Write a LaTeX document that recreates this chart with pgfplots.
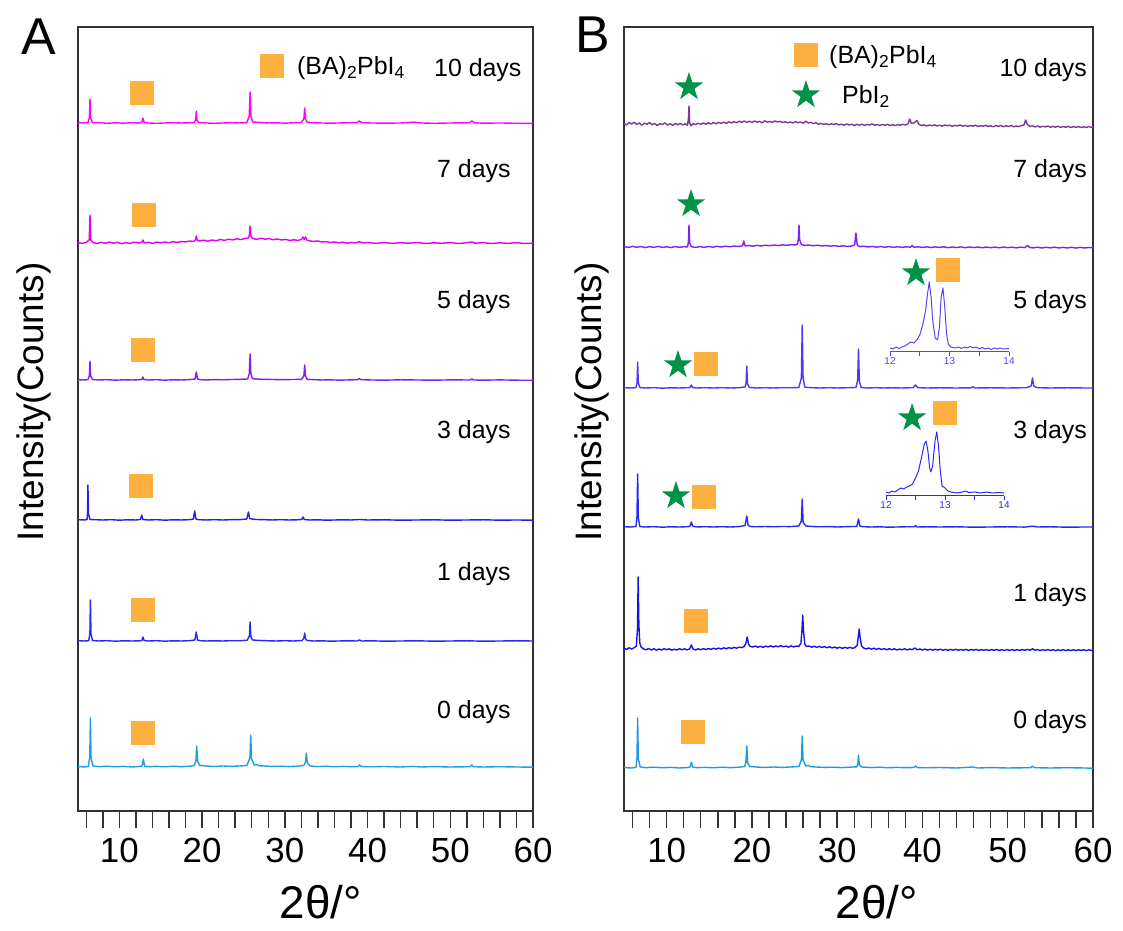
\documentclass[border=0pt]{standalone}
\usepackage{fontspec}
\setmainfont{Liberation Sans}
\usepackage{pgfplots}
\pgfplotsset{compat=1.18}
\definecolor{cA10}{RGB}{255,0,255}
\definecolor{cA7}{RGB}{225,0,240}
\definecolor{cA5}{RGB}{128,32,240}
\definecolor{cA3}{RGB}{32,32,240}
\definecolor{cA1}{RGB}{40,40,248}
\definecolor{cA0}{RGB}{28,160,224}
\definecolor{cB10}{RGB}{125,55,155}
\definecolor{cB7}{RGB}{128,32,245}
\definecolor{cB5}{RGB}{90,50,245}
\definecolor{cB3}{RGB}{40,40,245}
\definecolor{cB1}{RGB}{20,20,230}
\definecolor{cB0}{RGB}{30,155,224}
\definecolor{sq}{RGB}{251,176,64}
\definecolor{st}{RGB}{0,146,69}
\definecolor{ins5}{RGB}{80,70,245}
\definecolor{ins3}{RGB}{40,40,245}
\definecolor{axc}{RGB}{50,50,50}
\pgfdeclareplotmark{fstar}{%
  \pgfpathmoveto{\pgfpointpolar{90}{\pgfplotmarksize}}%
  \pgfpathlineto{\pgfpointpolar{126}{0.382*\pgfplotmarksize}}%
  \pgfpathlineto{\pgfpointpolar{162}{\pgfplotmarksize}}%
  \pgfpathlineto{\pgfpointpolar{198}{0.382*\pgfplotmarksize}}%
  \pgfpathlineto{\pgfpointpolar{234}{\pgfplotmarksize}}%
  \pgfpathlineto{\pgfpointpolar{270}{0.382*\pgfplotmarksize}}%
  \pgfpathlineto{\pgfpointpolar{306}{\pgfplotmarksize}}%
  \pgfpathlineto{\pgfpointpolar{342}{0.382*\pgfplotmarksize}}%
  \pgfpathlineto{\pgfpointpolar{18}{\pgfplotmarksize}}%
  \pgfpathlineto{\pgfpointpolar{54}{0.382*\pgfplotmarksize}}%
  \pgfpathclose\pgfusepathqfill}
\pgfplotsset{
  xrdaxis/.style={
    anchor=south west, scale only axis, height=784bp,
    xmin=5, xmax=60, ymin=0, ymax=784,
    ytick=\empty, xtick={10,20,...,60}, minor xtick={6,8,...,58},
    xtick pos=left, tick align=outside,
    major tick length=17bp, minor tick length=17bp,
    tick style={line width=1.4bp, color=axc},
    axis line style={line width=1.8bp, color=axc},
    xticklabel style={font=\fontsize{35}{40}\selectfont, inner sep=1bp, yshift=-9bp},
    /pgf/number format/assume math mode=true,
    clip=false},
  tr/.style={line width=1.4bp, line join=round},
  sqm/.style={only marks, mark=square*, mark size=11.5bp, mark options={fill=sq, draw=sq, line width=0pt}},
  stm/.style={only marks, mark=fstar, mark size=15bp, mark options={fill=st, draw=none}},
  inset/.style={anchor=south west, scale only axis, height=75bp,
    xmin=12, xmax=14, ymin=0, ymax=75,
    axis x line*=bottom, axis y line=none,
    xtick={12,13,14}, minor xtick={12.5,13.5},
    tick align=outside, major tick length=4bp, minor tick length=4bp,
    /pgf/number format/assume math mode=true, clip=false}
}
\begin{document}
\begin{tikzpicture}[x=1bp,y=1bp]
\useasboundingbox (0,0) rectangle (1123,931);
% ---------------- Panel A ----------------
\begin{axis}[xrdaxis, at={(78bp,120bp)}, width=455bp]
\addplot[tr, cA0] table[x=x, y expr=\thisrow{y}+44] {
x y
5 0.5
5.8 0
6.25 0.5
6.42 10
6.5 49
6.58 9
6.8 1
7.5 0.3
8.5 0.8
9.5 0.2
10.5 0.6
11.5 0
12.4 0.5
12.75 1
12.9 8
13.05 1
13.4 0.3
14.5 0.6
15.5 0.2
16.5 0.8
17.5 0.3
18.5 0.8
19.05 1.5
19.25 6
19.35 21
19.47 5
19.75 1.5
20.5 1
21.5 0.5
22.5 1
23.5 0.6
24.5 1
25.4 1.5
25.78 9
25.88 32
25.98 8
26.3 2
26.6 2.5
26.9 1.3
27.5 1
28.5 0.6
29.5 0.8
30.5 0.4
31.5 0.8
32.3 1.5
32.5 5
32.6 14
32.72 4
33.1 1
34 0.4
35 0.8
36 0.2
37 0.6
38 0.3
38.85 0.5
39.05 2
39.25 0.5
40.5 0.2
42 0.5
44 0
45.5 0.6
46.5 0
48 0.4
50 0
52.4 0.3
52.6 2
52.8 0.3
54 0
56 0.3
58 0
60 -0.2
};
\addplot[tr, cA1] table[x=x, y expr=\thisrow{y}+170] {
x y
5 0.3
5.8 0
6.3 0.3
6.44 8
6.5 41
6.57 7
6.75 0.5
7.5 0
8.5 0.3
9.5 -0.2
10.5 0.2
11.5 0
12.5 0.2
12.72 0.5
12.85 4
12.98 0.5
13.5 0
14.5 0.3
15.5 -0.2
16.5 0.2
17.5 0
18.5 0.3
19.12 1
19.3 9
19.45 1
19.8 0.3
20.5 0
21.5 0.2
22.5 0
23.5 0.3
24.5 0.2
25.45 0.8
25.72 5
25.8 19
25.9 4
26.1 1
27 0.5
28 0.2
29 0
30 0.3
31 0
32.1 0.5
32.3 3
32.4 8
32.5 2
32.7 0.5
33.5 0
34.5 0.2
35.5 -0.2
36.5 0
37.5 0.2
38.7 0
39 1
39.3 0
40.5 0.2
42 -0.2
44 0
46 0.2
48 -0.2
50 0
52 0.2
54 -0.2
56 0
58 0.2
60 0
};
\addplot[tr, cA3] table[x=x, y expr=\thisrow{y}+291] {
x y
5 0.3
5.8 0
6.1 0.5
6.15 7
6.2 35
6.27 6
6.45 0.5
7 0.3
8 0
9 0.3
10 -0.2
11 0.2
12 0
12.55 0.5
12.7 5
12.85 0.5
13.5 0
14.5 0.3
15.5 -0.2
16.5 0.2
17.5 0
18.5 0.3
18.95 1
19.1 9
19.25 1
19.6 0.3
20.5 0
21.5 0.3
22.5 0
23.5 0.3
24.5 0.3
25.4 1
25.6 8
25.75 1.5
26 1
26.5 0.5
27.5 0.3
28.5 0
29.5 0.3
30.5 0
31.5 0.2
32.05 0.5
32.2 3
32.35 0.5
33 0
34 0.2
35 -0.2
36 0
37 0.2
38 0
39 0.5
40 0
42 0.2
44 -0.2
46 0
48 0.2
50 -0.2
52 0
54 0.2
56 -0.2
58 0
60 -0.2
};
\addplot[tr, cA5] table[x=x, y expr=\thisrow{y}+431] {
x y
5 0.3
5.6 0
6.2 0.3
6.37 4
6.45 19
6.53 4
6.75 0.5
7.5 0
8.5 0.3
9.5 -0.2
10.5 0.2
11.5 0
12.5 0.3
12.75 0.8
12.85 3
12.95 0.5
13.5 0
14.5 0.3
15.5 -0.2
16.5 0.2
17.5 0
18.5 0.4
19.15 1
19.3 8
19.45 1
19.8 0.3
20.5 0
21.5 0.4
22.5 0.2
23.5 0.5
24.5 0.6
25.5 1
25.7 6
25.8 26
25.9 6
26.1 1.3
27 0.8
28 0.6
29 0.4
30 0.3
31 0.5
32 0.6
32.3 4
32.4 15
32.5 4
32.7 0.7
33.5 0.3
34.5 0
35.5 0.2
36.5 -0.2
37.5 0
38.8 0.3
39 1.5
39.2 0.3
40.5 0
42 -0.2
44 0.2
46 0
48 -0.2
50 0.1
52.4 0
52.6 1
52.8 0
54 -0.2
56 0.1
58 -0.2
60 -0.3
};
\addplot[tr, cA7] table[x=x, y expr=\thisrow{y}+568] {
x y
5 0.5
5.5 -0.5
6 0.8
6.35 3
6.45 28
6.55 3
6.8 0.5
7.3 -0.6
7.8 0.7
8.3 -0.3
8.8 0.9
9.3 -0.2
9.8 0.6
10.3 -0.8
10.8 0.4
11.3 -0.4
11.8 0.8
12.3 0
12.7 0.5
12.85 3
13.0 0
13.5 0.7
14 -0.5
14.5 0.9
15 0.1
15.5 1
16 0.2
16.5 1.3
17 0.6
17.5 1.5
18 1
18.5 2
19 1.5
19.2 3
19.3 7
19.42 2.5
19.7 2
20.2 2.8
20.7 1.8
21.2 3
21.7 2.2
22.2 3.5
22.7 2.6
23.2 3.8
23.7 3
24.2 4.2
24.7 3.4
25.2 4.5
25.6 5
25.72 8
25.8 17
25.9 7
26.1 4.5
26.6 3.6
27.1 4.8
27.6 3.8
28.1 4.4
28.6 3.2
29.1 4
29.6 3
30.1 3.6
30.6 2.5
31.1 3.2
31.6 2.6
32.0 3.5
32.2 6
32.35 3.5
32.5 6
32.65 3
33 2
33.5 1.6
34 2
34.5 1
35 1.3
35.5 0.5
36 1
36.5 0.2
37 0.8
37.5 -0.2
38 0.5
38.5 0
39 1.2
39.5 0
40 0.5
41 -0.3
42 0.4
43 -0.4
44 0.3
45 -0.2
46 0.5
47 -0.5
48 0.2
49 -0.3
50 0.4
51 -0.5
52 0.2
52.6 1
53 -0.2
54 0.3
55 -0.5
56 0.2
57 -0.4
58 0.3
59 -0.5
60 -0.2
};
\addplot[tr, cA10] table[x=x, y expr=\thisrow{y}+688] {
x y
5 0.5
5.5 0
6.2 0.3
6.37 5
6.45 24
6.53 5
6.75 0.5
7.5 0.3
8.5 -0.3
9.5 0.2
10.5 -0.2
11.5 0.3
12.5 0
12.7 0.5
12.85 5
13.0 0.5
13.5 0
14.5 -0.3
15.5 0
16.5 0.3
17.5 0
18.5 0.2
19.05 0.5
19.22 3
19.3 12
19.38 3
19.6 0.5
20.5 0
21.5 -0.3
22.5 0
23.5 0.3
24.5 0
25.4 0.3
25.7 7
25.8 31
25.9 7
26.1 1
27 0.5
28 0
29 0.2
30 -0.2
31 0.2
32 0.5
32.3 4
32.4 15
32.5 4
32.7 0.8
33.5 0.2
34.5 0
35.5 -0.2
36.5 0
37.5 0.2
38.7 0.3
39 2
39.3 0.3
40.5 0
42 -0.2
44 0
45.6 0.8
46.5 0
48 -0.3
50 0
52.3 0.2
52.6 2
52.9 0.2
54 -0.2
56 0
58 -0.3
60 -0.4
};
\addplot[sqm] coordinates {(12.74,718) (12.98,596) (12.86,461) (12.62,325) (12.86,201) (12.86,78) (28.45,745)};
\end{axis}
% ---------------- Panel B ----------------
\begin{axis}[xrdaxis, at={(624bp,120bp)}, width=469bp]
\addplot[tr, cB0] table[x=x, y expr=\thisrow{y}+43] {
x y
5 0.5
5.8 0
6.4 0.5
6.52 10
6.6 50
6.68 9
6.9 1
7.5 0.3
8.5 0.8
9.5 0.2
10.5 0.6
11.5 0
12.5 0.5
12.75 1
12.9 6
13.05 1
13.5 0.3
14.5 0.6
15.5 0.2
16.5 0.8
17.5 0.3
18.5 0.8
19.15 1.5
19.3 6
19.4 22
19.5 5
19.75 1.5
20.5 1
21.5 0.5
22.5 1
23.5 0.6
24.5 1
25.5 1.5
25.8 8
25.9 32
26.0 8
26.3 2
26.6 2.5
26.9 1.3
27.5 1
28.5 0.6
29.5 0.8
30.5 0.4
31.5 0.8
32.3 1.2
32.42 4
32.5 13
32.6 3
32.9 1
34 0.4
35 0.8
36 0.2
37 0.6
38 0.3
39 0.5
39.2 2
39.4 0.4
40.5 0.2
42 0.5
44 0
45.9 1
46.5 0
48 0.4
50 0
52.7 0.3
52.9 2
53.1 0.3
55 0
57 0.3
59 0
60 -0.2
};
\addplot[tr, cB1] table[x=x, y expr=\thisrow{y}+162] {
x y
5 1
5.3 -0.5
5.6 1.2
5.9 0
6.2 1.3
6.45 3
6.58 20
6.66 72
6.74 25
6.85 6
7 2
7.3 0
7.6 -0.8
7.9 0.5
8.2 -1
8.5 0.3
8.8 -1.2
9.1 0
9.4 -1
9.7 0.4
10 -0.8
10.3 0.2
10.6 -1.2
10.9 -0.2
11.2 -1
11.5 0.3
11.8 -0.8
12.1 0.2
12.4 -1
12.7 0.2
12.9 4
13.1 0
13.4 -1
13.7 0.2
14 -0.8
14.3 0.4
14.6 -0.6
14.9 0.5
15.2 -0.4
15.5 0.8
15.8 -0.2
16.1 0.9
16.4 0
16.7 1.2
17 0.2
17.3 1.4
17.6 0.5
17.9 1.6
18.2 0.8
18.5 1.8
18.8 1.4
19.1 2.5
19.3 6
19.45 12
19.6 5
19.8 2.5
20.1 2
20.4 3
20.7 1.8
21 2.8
21.3 1.6
21.6 3
21.9 2
22.2 3.2
22.5 2
22.8 3
23.1 2.2
23.4 3.3
23.7 2.2
24 3
24.3 1.8
24.6 3.2
24.9 2
25.2 3
25.5 2.5
25.75 6
25.88 20
25.96 34
26.05 18
26.2 5
26.4 2.5
26.7 3
27 1.8
27.3 2.8
27.6 1.6
27.9 2.6
28.2 1.5
28.5 2.4
28.8 1.2
29.1 2.2
29.4 1
29.7 2
30 0.8
30.3 1.8
30.6 0.6
30.9 1.6
31.2 0.8
31.5 1.6
31.8 0.6
32.1 1.5
32.35 4
32.5 14
32.58 20
32.68 12
32.85 3
33.1 1
33.4 0
33.7 1
34 -0.2
34.3 0.8
34.6 -0.4
34.9 0.6
35.2 -0.6
35.5 0.4
35.8 -0.8
36.1 0.3
36.4 -0.8
36.7 0.2
37 -1
37.3 0
37.6 -0.8
37.9 0.2
38.2 -0.9
38.5 0
38.8 -0.6
39.1 1
39.4 -0.8
39.7 0
40 -1
40.3 -0.1
40.6 -1.1
40.9 -0.2
41.2 -1.2
41.5 -0.3
41.8 -1
42.1 -0.2
42.4 -1.2
42.7 -0.4
43 -1.3
43.3 -0.4
43.6 -1.2
43.9 -0.3
44.2 -1.3
44.5 -0.5
44.8 -1.2
45.1 -0.4
45.4 -1.4
45.7 -0.5
46 -1.2
46.3 -0.4
46.6 -1.4
46.9 -0.6
47.2 -1.3
47.5 -0.5
47.8 -1.5
48.1 -0.6
48.4 -1.3
48.7 -0.5
49 -1.4
49.3 -0.7
49.6 -1.5
49.9 -0.6
50.2 -1.4
50.5 -0.6
50.8 -1.5
51.1 -0.7
51.4 -1.4
51.7 -0.6
52 -1.3
52.3 -0.4
52.6 -1.2
52.9 0.2
53.2 -1.2
53.5 -0.6
53.8 -1.5
54.1 -0.7
54.4 -1.4
54.7 -0.6
55 -1.5
55.3 -0.7
55.6 -1.6
55.9 -0.8
56.2 -1.5
56.5 -0.7
56.8 -1.6
57.1 -0.8
57.4 -1.5
57.7 -0.7
58 -1.6
58.3 -0.8
58.6 -1.5
58.9 -0.7
59.2 -1.6
59.5 -0.8
59.8 -1.5
60 -1
};
\addplot[tr, cB3] table[x=x, y expr=\thisrow{y}+284] {
x y
5 0.3
5.8 0
6.4 0.5
6.52 10
6.6 53
6.68 9
6.85 0.5
7.5 0
8.5 0.3
9.5 -0.2
10.5 0.2
11.5 0
12.5 0.3
12.75 1
12.9 5
13.05 0.8
13.5 0
14.5 0.3
15.5 0
16.5 0.3
17.5 0
18.5 0.4
19.2 1.5
19.4 11
19.55 1.5
19.9 0.4
20.5 0.2
21.5 0.5
22.5 0.2
23.5 0.5
24.5 0.4
25.5 1
25.8 6
25.9 28
26.0 5
26.3 1
27 0.5
28 0.2
29 0.4
30 0
31 0.3
32.3 0.6
32.5 8
32.65 1
33 0.3
34 0
35 0.2
36 -0.2
37 0
38 0.2
39.05 0.2
39.2 1.5
39.35 0
40.5 0.2
42 0
44 0.2
46 -0.2
48 0
50 0.2
52 -0.1
52.9 0.8
53.5 0
55 0.2
57 -0.2
59 0
60 0
};
\addplot[tr, cB5] table[x=x, y expr=\thisrow{y}+423] {
x y
5 0.3
5.8 0
6.4 0.3
6.53 5
6.6 26
6.68 5
6.85 0.5
7.5 0
8.5 0.3
9.5 -0.2
10.5 0.2
11.5 0
12.5 0.3
12.75 0.5
12.9 3
13.05 0.5
13.5 0
14.5 0.3
15.5 0
16.5 0.3
17.5 0
18.5 0.3
19.2 1
19.32 5
19.4 22
19.48 4
19.7 0.5
20.5 0
21.5 0.3
22.5 0
23.5 0.3
24.5 0.2
25.5 0.5
25.8 10
25.9 63
26.0 10
26.2 0.8
27 0.3
28 0
29 0.3
30 0
31 0.2
32.2 0.5
32.4 8
32.5 39
32.6 7
32.8 0.5
33.5 0
34.5 0.3
35.5 0
36.5 0.2
37.5 0
38.9 0.3
39.2 3
39.45 0.3
40.5 0
42 0.2
44 0
45.7 0.2
45.9 1.2
46.1 0
48 0.2
50 0
52.2 0.3
52.75 2
52.9 10
53.05 2
53.4 0.3
55 0
57 0.2
59 0
60 0
};
\addplot[tr, cB7] table[x=x, y expr=\thisrow{y}+564] {
x y
5 0.5
5.5 -0.5
6 0.6
6.5 -0.3
7 0.5
7.5 -0.6
8 0.3
8.5 -0.4
9 0.6
9.5 -0.5
10 0.2
10.5 -0.6
11 0.4
11.5 -0.3
12 0.3
12.45 0
12.55 5
12.62 22
12.7 4
12.9 0.3
13.4 -0.5
13.9 0.4
14.4 -0.3
14.9 0.5
15.4 -0.2
15.9 0.6
16.4 0
16.9 0.8
17.4 0.2
17.9 1
18.4 0.5
18.9 1.2
19.05 6
19.2 1
19.6 1.5
20.1 0.8
20.6 1.6
21.1 1
21.6 1.8
22.1 1.2
22.6 2
23.1 1.4
23.6 2.2
24.1 1.6
24.6 2.4
25.1 2
25.35 3
25.45 8
25.52 22
25.6 7
25.8 2.5
26.2 1.5
26.7 2
27.2 1.2
27.7 1.8
28.2 1
28.7 1.5
29.2 0.8
29.7 1.3
30.2 0.6
30.7 1.2
31.2 0.5
31.7 1
32.05 2
32.2 14
32.35 2
32.6 0.3
33.1 0.8
33.6 0
34.1 0.6
34.6 -0.2
35.1 0.5
35.6 -0.3
36.1 0.4
36.6 -0.4
37.1 0.3
37.6 -0.5
38.1 0.2
38.6 -0.2
38.8 1.5
39 -0.3
39.5 0.2
40 -0.5
40.5 0.2
41 -0.6
41.5 0.1
42 -0.5
42.5 0.2
43 -0.7
43.5 0
44 -0.6
44.5 0.1
45 -0.7
45.5 0
46 -0.6
46.5 0
47 -0.8
47.5 -0.1
48 -0.7
48.5 -0.1
49 -0.8
49.5 0
50 -0.7
50.5 -0.2
51 -0.9
51.5 -0.2
52 -0.6
52.3 1.5
52.6 -0.5
53 -0.9
53.5 -0.2
54 -1
54.5 -0.3
55 -0.9
55.5 -0.2
56 -1
56.5 -0.4
57 -1
57.5 -0.3
58 -1.1
58.5 -0.4
59 -1
59.5 -0.5
60 -0.8
};
\addplot[tr, cB10] table[x=x, y expr=\thisrow{y}+687] {
x y
5 0.5
5.3 -1
5.6 1.5
5.9 0
6.2 1.8
6.5 -0.5
6.8 1
7.1 -1.2
7.4 0.8
7.7 -0.3
8.0 1.5
8.3 -0.8
8.6 0.5
8.9 -1.5
9.2 0.3
9.5 -0.6
9.8 1
10.1 -1
10.4 0.2
10.7 -1.3
11 0.5
11.3 -0.8
11.6 0.6
11.9 -1
12.2 0.3
12.45 -1.5
12.55 5
12.62 18
12.7 1
12.85 -1.8
13.1 0.2
13.4 -0.5
13.7 0.8
14 -0.4
14.3 1
14.6 -0.2
14.9 1.2
15.2 0
15.5 1.5
15.8 0.3
16.1 1.6
16.4 0.5
16.7 1.8
17 0.6
17.3 2.2
17.6 1
17.9 2.4
18.2 1.2
18.5 2.8
18.8 1.5
19.1 3
19.4 1.6
19.7 2.8
20 1.4
20.3 3
20.6 1.8
20.9 2.6
21.2 1.2
21.5 3.2
21.8 1.8
22.1 2.5
22.4 1.6
22.7 3
23 2
23.3 2.6
23.6 1.5
23.9 2.2
24.2 1.3
24.5 2
24.8 1
25.1 2.4
25.4 1.2
25.7 2
26 0.8
26.3 2.8
26.6 1
26.9 1.6
27.2 0.4
27.5 1.2
27.8 -0.2
28.1 0.6
28.4 -0.5
28.7 0.3
29 -0.8
29.3 0.2
29.6 -0.6
29.9 0.4
30.2 -1
30.5 -0.2
30.8 -1.2
31.1 0
31.4 -1
31.7 -0.3
32 -1.5
32.3 -0.4
32.6 -1.2
32.9 -0.2
33.2 -1.4
33.5 -0.5
33.8 -1
34.1 0
34.4 -1.2
34.7 -0.6
35 -1.5
35.3 -0.5
35.6 -1.3
35.9 -0.4
36.2 -1.5
36.5 -0.8
36.8 -1.6
37.1 -0.6
37.4 -1.2
37.7 -0.4
38 -1
38.3 0
38.5 5
38.7 0.5
39.0 1
39.35 3.5
39.6 -0.5
39.9 -1.5
40.2 -0.8
40.5 -2
40.8 -1
41.1 -1.8
41.4 -0.8
41.7 -2
42 -1.2
42.3 -2.2
42.6 -1
42.9 -1.8
43.2 -1.2
43.5 -2.4
43.8 -1.3
44.1 -2
44.4 -1
44.7 -2.2
45 -1.4
45.3 -2.5
45.6 -1.5
45.9 -2.2
46.2 -1.2
46.5 -2.6
46.8 -1.6
47.1 -2.3
47.4 -1.4
47.7 -2.5
48 -1.8
48.3 -2.8
48.6 -1.6
48.9 -2.4
49.2 -1.5
49.5 -2.7
49.8 -1.8
50.1 -2.5
50.4 -1.6
50.7 -2.8
51 -2
51.3 -2.6
51.6 -1.6
51.9 -1
52.1 4
52.3 -0.5
52.6 -2.5
52.9 -1.8
53.2 -3
53.5 -2
53.8 -3.2
54.1 -2.2
54.4 -3
54.7 -2
55 -3.3
55.3 -2.4
55.6 -3.2
55.9 -2.2
56.2 -3.5
56.5 -2.5
56.8 -3.3
57.1 -2.4
57.4 -3.6
57.7 -2.6
58 -3.4
58.3 -2.5
58.6 -3.6
58.9 -2.8
59.2 -3.5
59.5 -2.6
59.8 -3.4
60 -3
};
\addplot[sqm] coordinates {(26.34,756) (14.62,447) (14.38,314) (13.44,190) (13.09,79) (43.0,541) (42.65,398)};
\addplot[stm] coordinates {(12.62,724) (26.34,716) (12.86,607) (11.33,446) (11.1,315) (39.24,538) (38.78,393)};
\end{axis}
% ---------------- Insets ----------------
\begin{axis}[inset, at={(890bp,579bp)}, width=119bp,
  x axis line style={ins5, line width=1bp, -},
  tick style={ins5, line width=0.8bp},
  xticklabel style={font=\fontsize{10}{12}\selectfont, text=ins5, inner sep=1bp}]
\addplot[ins5, line width=1bp, line join=round] table {
x y
12.0 4
12.05 3
12.1 5
12.15 3.5
12.2 5
12.25 6
12.3 8
12.35 10
12.4 9
12.45 12
12.5 17
12.55 27
12.6 42
12.63 58
12.66 70
12.69 55
12.72 30
12.76 14
12.8 12
12.83 25
12.86 55
12.89 64
12.92 45
12.95 18
12.98 8
13.02 5
13.1 4
13.15 5
13.2 3.5
13.25 5
13.3 4
13.35 5.5
13.4 4
13.45 5
13.5 3
13.55 4.5
13.6 3
13.65 4
13.7 2.5
13.75 4
13.8 3
13.85 4
13.9 3
14.0 3.5
};
\end{axis}
\begin{axis}[inset, at={(886bp,435bp)}, width=118bp,
  x axis line style={ins3, line width=1bp, -},
  tick style={ins3, line width=0.8bp},
  xticklabel style={font=\fontsize{10}{12}\selectfont, text=ins3, inner sep=1bp}]
\addplot[ins3, line width=1bp, line join=round] table {
x y
12.0 4
12.05 3
12.1 5
12.15 4
12.2 6
12.25 8
12.3 7
12.35 9
12.4 10
12.45 12
12.5 18
12.55 25
12.6 38
12.65 52
12.68 55
12.71 45
12.74 28
12.76 24
12.79 30
12.83 55
12.86 64
12.89 50
12.92 25
12.95 10
13.0 8
13.05 5
13.1 4
13.2 3
13.3 4
13.35 5
13.4 3.5
13.5 4
13.6 3
13.7 4
13.8 3
13.9 3.5
14 3
};
\end{axis}
% ---------------- Texts ----------------
\begin{scope}[every node/.style={inner sep=0pt}]
\node[anchor=base, font=\fontsize{52}{60}\selectfont] at (39,876) {A};
\node[anchor=base, font=\fontsize{52}{60}\selectfont] at (593,878) {B};
\node[anchor=base, rotate=90, font=\fontsize{37}{44}\selectfont] at (43,529) {Intensity(Counts)};
\node[anchor=base, rotate=90, font=\fontsize{37}{44}\selectfont] at (601,529) {Intensity(Counts)};
\node[anchor=base, font=\fontsize{46}{54}\selectfont] at (321,12) {2θ/°};
\node[anchor=base, font=\fontsize{46}{54}\selectfont] at (877,12) {2θ/°};
\begin{scope}[every node/.append style={font=\fontsize{25}{30}\selectfont}]
\node[anchor=base west] at (297,856) {(BA)\textsubscript{2}PbI\textsubscript{4}};
\node[anchor=base west] at (434,854) {10 days};
\node[anchor=base west] at (437,753) {7 days};
\node[anchor=base west] at (437,622) {5 days};
\node[anchor=base west] at (437,492) {3 days};
\node[anchor=base west] at (437,350) {1 days};
\node[anchor=base west] at (437,212) {0 days};
\node[anchor=base west] at (829,867) {(BA)\textsubscript{2}PbI\textsubscript{4}};
\node[anchor=base west] at (842,827) {PbI\textsubscript{2}};
\node[anchor=base east] at (1087,854) {10 days};
\node[anchor=base east] at (1087,753) {7 days};
\node[anchor=base east] at (1087,622) {5 days};
\node[anchor=base east] at (1087,492) {3 days};
\node[anchor=base east] at (1087,329) {1 days};
\node[anchor=base east] at (1087,202) {0 days};
\end{scope}
\end{scope}
\end{tikzpicture}
\end{document}
